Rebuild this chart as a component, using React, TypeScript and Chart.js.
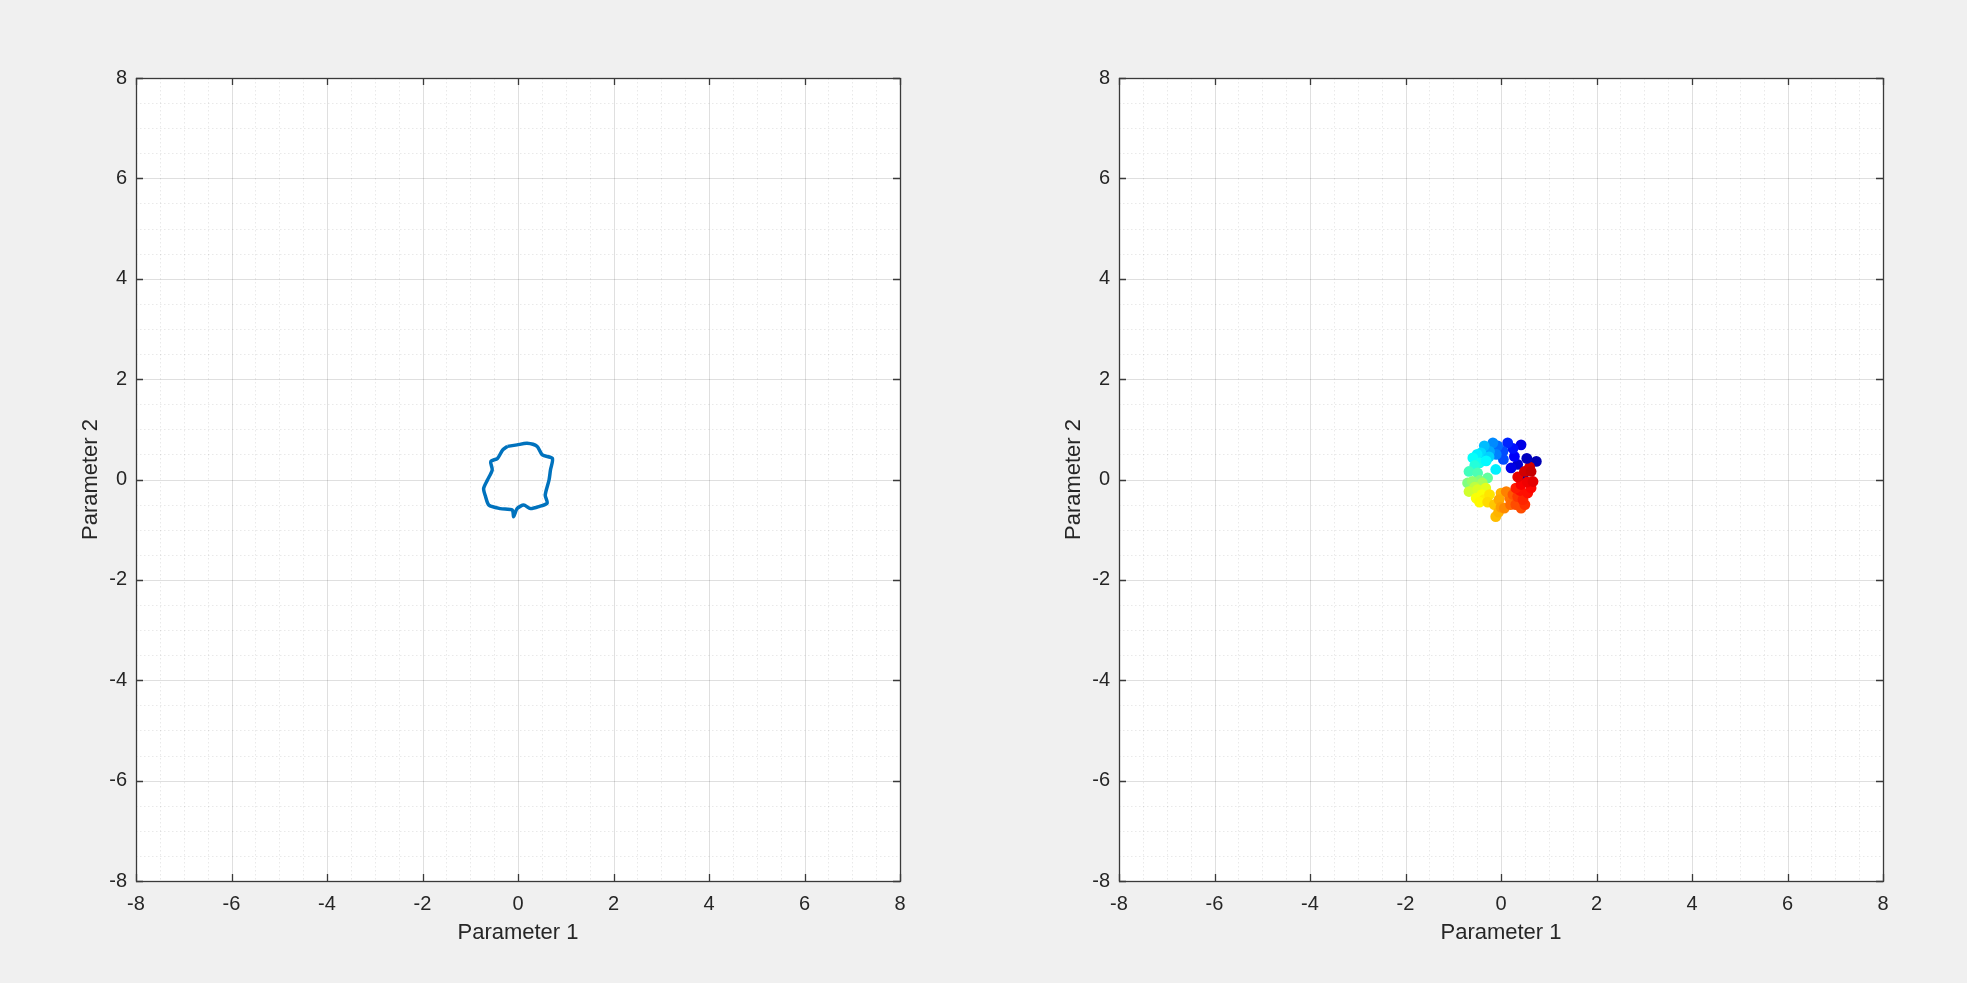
import React, { useEffect, useRef } from 'react';
import { Chart, registerables } from 'chart.js';

Chart.register(...registerables);

// ---- data ----
const curveX = [-0.22, -0.02, 0.19, 0.40, 0.51, 0.72, 0.68, 0.65, 0.57, 0.61, 0.44, 0.26, 0.12, -0.02, -0.09, -0.12, -0.37, -0.61, -0.68, -0.72, -0.64, -0.54, -0.57, -0.43, -0.32, -0.22];
const curveY = [0.66, 0.69, 0.72, 0.66, 0.49, 0.42, 0.19, -0.01, -0.31, -0.47, -0.54, -0.58, -0.51, -0.58, -0.74, -0.61, -0.58, -0.51, -0.34, -0.18, -0.01, 0.19, 0.36, 0.42, 0.59, 0.66];

const scatterX = [0.46, 0.74, 0.60, 0.54, 0.35, 0.42, 0.28, 0.21, 0.25, 0.14, 0.05, 0.04, -0.07, -0.10, -0.17, -0.24, -0.35, -0.42, -0.25, -0.50, -0.59, -0.45, -0.31, -0.11, -0.55, -0.67, -0.49, -0.28, -0.45, -0.70, -0.60, -0.39, -0.55, -0.67, -0.49, -0.32, -0.52, -0.40, -0.35, -0.45, -0.24, -0.28, -0.14, -0.11, 0.00, -0.05, -0.04, 0.00, 0.07, 0.18, 0.11, 0.20, 0.25, 0.31, 0.42, 0.35, 0.50, 0.46, 0.40, 0.56, 0.63, 0.31, 0.42, 0.55, 0.67, 0.35, 0.49, 0.63];
const scatterY = [0.06, 0.36, 0.25, 0.42, 0.30, 0.69, 0.46, 0.23, 0.62, 0.73, 0.40, 0.56, 0.67, 0.50, 0.73, 0.56, 0.67, 0.53, 0.45, 0.50, 0.43, 0.33, 0.37, 0.20, 0.28, 0.16, 0.13, 0.03, -0.02, -0.07, -0.04, -0.07, -0.15, -0.24, -0.20, -0.17, -0.37, -0.30, -0.40, -0.45, -0.30, -0.45, -0.50, -0.74, -0.27, -0.65, -0.40, -0.55, -0.57, -0.37, -0.24, -0.50, -0.30, -0.50, -0.57, -0.34, -0.50, -0.40, -0.22, -0.27, -0.17, -0.17, -0.10, -0.05, -0.04, 0.05, 0.16, 0.16];
// colour value of each point (mapped through the jet colormap)
const scatterC = [0.03, 0.05, 0.92, 0.06, 0.08, 0.10, 0.12, 0.10, 0.14, 0.16, 0.20, 0.20, 0.23, 0.25, 0.26, 0.29, 0.31, 0.34, 0.33, 0.36, 0.38, 0.39, 0.37, 0.36, 0.41, 0.44, 0.45, 0.47, 0.50, 0.50, 0.52, 0.54, 0.56, 0.58, 0.59, 0.60, 0.62, 0.62, 0.64, 0.63, 0.65, 0.66, 0.68, 0.69, 0.70, 0.70, 0.71, 0.72, 0.74, 0.76, 0.75, 0.77, 0.79, 0.80, 0.80, 0.82, 0.83, 0.84, 0.86, 0.86, 0.87, 0.85, 0.88, 0.89, 0.90, 0.90, 0.92, 0.93];

const majorTicks = [-8, -6, -4, -2, 0, 2, 4, 6, 8];
const axisMin = -8;
const axisMax = 8;
const minorStep = 0.5;
const xTitle = 'Parameter 1';
const yTitle = 'Parameter 2';

// ---- style ----
const FONT = '"Liberation Sans", Arial, Helvetica, sans-serif';
const TEXT = '#262626';

function jet(t: number): string {
  const c = (v: number) => Math.round(255 * Math.max(0, Math.min(1, v)));
  const r = c(1.5 - Math.abs(4 * t - 3));
  const g = c(1.5 - Math.abs(4 * t - 2));
  const b = c(1.5 - Math.abs(4 * t - 1));
  return `rgb(${r},${g},${b})`;
}

const framePlugin = {
  id: 'matlabFrame',
  beforeDraw(chart: any) {
    const { ctx, chartArea: a } = chart;
    ctx.save();
    ctx.fillStyle = '#ffffff';
    ctx.fillRect(a.left, a.top, a.right - a.left, a.bottom - a.top);
    ctx.restore();
  },
  beforeDatasetsDraw(chart: any) {
    const { ctx, chartArea: a, scales } = chart;
    const xs = scales.x;
    const ys = scales.y;
    ctx.save();
    ctx.strokeStyle = 'rgba(38,38,38,0.10)';
    ctx.lineWidth = 1;
    ctx.setLineDash([1.5, 2.5]);
    for (let v = axisMin; v <= axisMax + 1e-9; v += minorStep) {
      if (majorTicks.includes(v)) continue;
      const px = Math.round(xs.getPixelForValue(v)) + 0.5;
      ctx.beginPath();
      ctx.moveTo(px, a.top);
      ctx.lineTo(px, a.bottom);
      ctx.stroke();
      const py = Math.round(ys.getPixelForValue(v)) + 0.5;
      ctx.beginPath();
      ctx.moveTo(a.left, py);
      ctx.lineTo(a.right, py);
      ctx.stroke();
    }
    ctx.setLineDash([]);
    ctx.strokeStyle = 'rgba(38,38,38,0.15)';
    for (const v of majorTicks) {
      const px = Math.round(xs.getPixelForValue(v)) + 0.5;
      ctx.beginPath();
      ctx.moveTo(px, a.top);
      ctx.lineTo(px, a.bottom);
      ctx.stroke();
      const py = Math.round(ys.getPixelForValue(v)) + 0.5;
      ctx.beginPath();
      ctx.moveTo(a.left, py);
      ctx.lineTo(a.right, py);
      ctx.stroke();
    }
    ctx.restore();
  },
  afterDatasetsDraw(chart: any) {
    const { ctx, chartArea: a, scales } = chart;
    const xs = scales.x;
    const ys = scales.y;
    const tl = 7;
    ctx.save();
    ctx.strokeStyle = '#3a3a3a';
    ctx.lineWidth = 1.3;
    for (const v of majorTicks) {
      const px = Math.round(xs.getPixelForValue(v)) + 0.5;
      ctx.beginPath();
      ctx.moveTo(px, a.bottom);
      ctx.lineTo(px, a.bottom - tl);
      ctx.moveTo(px, a.top);
      ctx.lineTo(px, a.top + tl);
      ctx.stroke();
      const py = Math.round(ys.getPixelForValue(v)) + 0.5;
      ctx.beginPath();
      ctx.moveTo(a.left, py);
      ctx.lineTo(a.left + tl, py);
      ctx.moveTo(a.right, py);
      ctx.lineTo(a.right - tl, py);
      ctx.stroke();
    }
    ctx.strokeRect(Math.round(a.left) + 0.5, Math.round(a.top) + 0.5, Math.round(a.right - a.left), Math.round(a.bottom - a.top));
    ctx.restore();
  },
};

function makeOptions(rightPad: number) {
  const tickFont = { family: FONT, size: 20 };
  const titleFont = { family: FONT, size: 22 };
  return {
    responsive: false,
    animation: false as const,
    devicePixelRatio: 1,
    layout: { padding: { top: 78, right: rightPad, bottom: 0, left: 0 } },
    plugins: { legend: { display: false }, tooltip: { enabled: false } },
    events: [],
    scales: {
      x: {
        type: 'linear' as const,
        min: axisMin,
        max: axisMax,
        afterBuildTicks: (s: any) => {
          s.ticks = majorTicks.map((v) => ({ value: v }));
        },
        ticks: { color: TEXT, font: tickFont, padding: 11, maxRotation: 0, autoSkip: false },
        grid: { display: false, drawTicks: false },
        border: { display: false },
        title: { display: true, text: xTitle, color: TEXT, font: titleFont, padding: { top: 0, bottom: 37 } },
        afterFit: (s: any) => {
          s.height = 102;
        },
      },
      y: {
        type: 'linear' as const,
        min: axisMin,
        max: axisMax,
        afterBuildTicks: (s: any) => {
          s.ticks = majorTicks.map((v) => ({ value: v }));
        },
        ticks: { color: TEXT, font: tickFont, padding: 9, autoSkip: false },
        grid: { display: false, drawTicks: false },
        border: { display: false },
        title: { display: true, text: yTitle, color: TEXT, font: titleFont, padding: { top: 78, bottom: 0 } },
        afterFit: (s: any) => {
          s.width = 136;
        },
      },
    },
  };
}

export default function App() {
  const leftRef = useRef<HTMLCanvasElement | null>(null);
  const rightRef = useRef<HTMLCanvasElement | null>(null);

  useEffect(() => {
    document.body.style.margin = '0';
    document.body.style.background = '#f0f0f0';
    const left = new Chart(leftRef.current as HTMLCanvasElement, {
      type: 'scatter',
      data: {
        datasets: [
          {
            data: curveX.map((x, i) => ({ x, y: curveY[i] })),
            showLine: true,
            borderColor: '#0072BD',
            borderWidth: 3.5,
            borderJoinStyle: 'round',
            pointRadius: 0,
            tension: 0.25,
            fill: false,
          },
        ],
      },
      options: makeOptions(83) as any,
      plugins: [framePlugin],
    });
    const right = new Chart(rightRef.current as HTMLCanvasElement, {
      type: 'scatter',
      data: {
        datasets: [
          {
            data: scatterX.map((x, i) => ({ x, y: scatterY[i] })),
            backgroundColor: scatterC.map((c) => jet(c)),
            borderWidth: 0,
            pointRadius: 5.4,
          },
        ],
      },
      options: makeOptions(84) as any,
      plugins: [framePlugin],
    });
    return () => {
      left.destroy();
      right.destroy();
    };
  }, []);

  return (
    <div style={{ position: 'relative', width: 1967, height: 983, background: '#f0f0f0', overflow: 'hidden' }}>
      <canvas ref={leftRef} width={983} height={983} style={{ position: 'absolute', left: 0, top: 0, width: 983, height: 983 }} />
      <canvas ref={rightRef} width={984} height={983} style={{ position: 'absolute', left: 983, top: 0, width: 984, height: 983 }} />
    </div>
  );
}
